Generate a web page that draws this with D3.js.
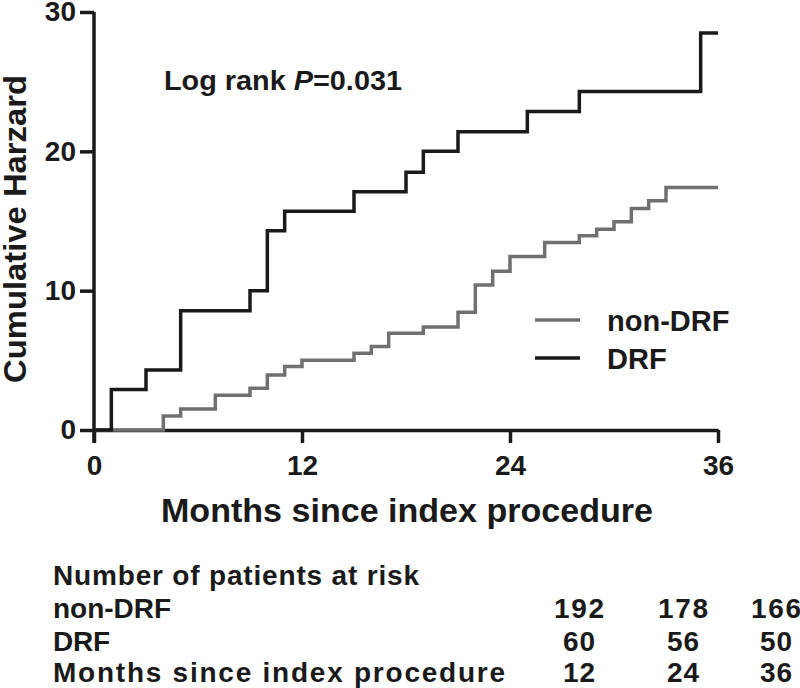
<!DOCTYPE html>
<html>
<head>
<meta charset="utf-8">
<script src="https://cdn.jsdelivr.net/npm/d3@7"></script>
<style>
  html, body { margin: 0; padding: 0; background: #fff; }
  svg { display: block; }
  text { font-family: "Liberation Sans", Arial, sans-serif; font-weight: bold; fill: #1a1a1a; }
</style>
</head>
<body>
<script>
// ---- data ----
const drfMonths  = [0, 1, 3, 5, 9, 10, 11, 15, 18, 19, 21, 25, 28, 35, 36];
const drfHazard  = [0, 2.9, 4.3, 8.55, 10.0, 14.3, 15.7, 17.1, 18.5, 20.0, 21.4, 22.85, 24.3, 28.5, 28.5];
const nonMonths  = [0, 4, 5, 7, 9, 10, 11, 12, 15, 16, 17, 19, 21, 22, 23, 24, 26, 28, 29, 30, 31, 32, 33, 36];
const nonHazard  = [0, 1.0, 1.5, 2.5, 3.0, 3.95, 4.55, 5.0, 5.5, 6.0, 6.94, 7.4, 8.45, 10.4, 11.4, 12.45, 13.45, 13.95, 14.4, 14.95, 15.9, 16.45, 17.4, 17.4];
const xTicks = [0, 12, 24, 36];
const yTicks = [0, 10, 20, 30];
const seriesNames = ["non-DRF", "DRF"];
const riskTitle = "Number of patients at risk";
const riskLabels = ["non-DRF", "DRF", "Months since index procedure"];
const riskNonDRF = [192, 178, 166];
const riskDRF = [60, 56, 50];
const riskMonths = [12, 24, 36];

const W = 800, H = 688;
const BLACK = "#1a1a1a", GRAY = "#707070";

const svg = d3.select("body").append("svg").attr("width", W).attr("height", H);

const x = d3.scaleLinear().domain([0, 36]).range([94, 718]);
const y = d3.scaleLinear().domain([0, 30]).range([430, 12]);

// axes
const gx = svg.append("g").attr("transform", `translate(0,${y(0)})`)
  .call(d3.axisBottom(x).tickValues(xTicks).tickSize(13).tickSizeOuter(0).tickPadding(12));
const gy = svg.append("g").attr("transform", `translate(${x(0)},0)`)
  .call(d3.axisLeft(y).tickValues(yTicks).tickSize(14).tickSizeOuter(0).tickPadding(4));
[gx, gy].forEach(g => {
  g.select(".domain").attr("stroke", BLACK).attr("stroke-width", 3.5);
  g.selectAll(".tick line").attr("stroke", BLACK).attr("stroke-width", 3.5);
  g.selectAll(".tick text").attr("fill", BLACK).style("font-size", "28px")
    .style("font-family", "'Liberation Sans', Arial, sans-serif").style("font-weight", "bold");
});
gy.select(".domain").attr("d", `M0,${y(30)}V${y(0) + 13}`);

// curves
const line = d3.line().x(d => x(d[0])).y(d => y(d[1])).curve(d3.curveStepAfter);
const nonData = nonMonths.map((m, i) => [m, nonHazard[i]]);
const drfData = drfMonths.map((m, i) => [m, drfHazard[i]]);
svg.append("path").datum(nonData).attr("d", line).attr("fill", "none")
  .attr("stroke", GRAY).attr("stroke-width", 3.5).attr("stroke-linejoin", "miter");
svg.append("path").datum(drfData).attr("d", line).attr("fill", "none")
  .attr("stroke", BLACK).attr("stroke-width", 3.5).attr("stroke-linejoin", "miter");

// axis titles
svg.append("text").attr("transform", "translate(26,229) rotate(-90)")
  .attr("text-anchor", "middle").style("font-size", "32px")
  .attr("textLength", 308).attr("lengthAdjust", "spacingAndGlyphs").text("Cumulative Harzard");
svg.append("text").attr("x", 407).attr("y", 522).attr("text-anchor", "middle")
  .style("font-size", "33px").attr("textLength", 492).attr("lengthAdjust", "spacingAndGlyphs")
  .text("Months since index procedure");

// log rank
const lr = svg.append("text").attr("x", 164).attr("y", 90).style("font-size", "27px")
  .attr("textLength", 238).attr("lengthAdjust", "spacingAndGlyphs");
lr.append("tspan").text("Log rank ");
lr.append("tspan").style("font-style", "italic").text("P");
lr.append("tspan").text("=0.031");

// legend
const legColors = [GRAY, BLACK];
const leg = svg.append("g");
seriesNames.forEach((n, i) => {
  const ly = 320 + i * 38;
  leg.append("line").attr("x1", 535).attr("x2", 580).attr("y1", ly).attr("y2", ly)
    .attr("stroke", legColors[i]).attr("stroke-width", 3.5);
  leg.append("text").attr("x", 607).attr("y", ly + 11).style("font-size", "29px").text(n);
});

// risk table
const colX = [579, 683, 776];
const rowY = [585, 618, 651, 682];
const fs = "28px";
function fit(sel, len) {
  return sel.style("font-size", fs).attr("textLength", len).attr("lengthAdjust", "spacing");
}
fit(svg.append("text").attr("x", 53).attr("y", rowY[0]), 366).text(riskTitle);
const labelLens = [118, 57, 452];
const rowsVals = [riskNonDRF, riskDRF, riskMonths];
riskLabels.forEach((lab, i) => {
  fit(svg.append("text").attr("x", 53).attr("y", rowY[i + 1]), labelLens[i]).text(lab);
  rowsVals[i].forEach((v, j) => {
    const s = String(v);
    fit(svg.append("text").attr("x", colX[j]).attr("y", rowY[i + 1]).attr("text-anchor", "middle"),
      s.length === 3 ? 50 : 32).text(s);
  });
});
</script>
</body>
</html>
